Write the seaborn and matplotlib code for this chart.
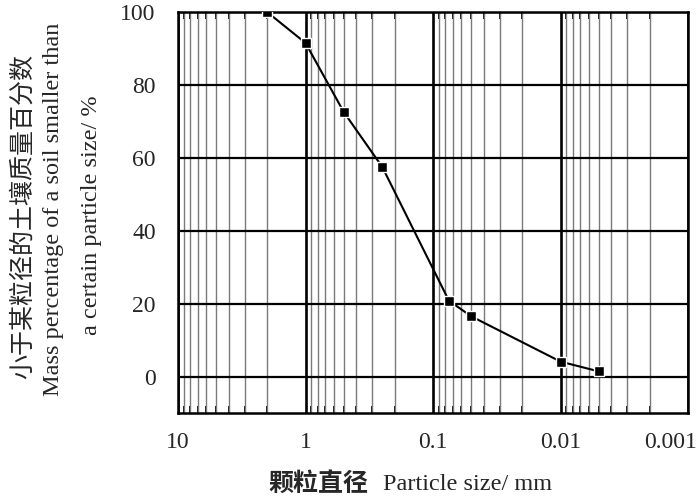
import matplotlib
matplotlib.use('Agg')
import matplotlib.pyplot as plt
import matplotlib.ticker as mticker
import matplotlib.transforms as mtransforms
import pandas as pd
import seaborn as sns

# grain size distribution
particle_size = [2, 1, 0.5, 0.25, 0.075, 0.05, 0.01, 0.005]
passing = [100, 91.5, 72.5, 57.5, 20.8, 16.5, 4.1, 1.4]
x_ticks = [10, 1, 0.1, 0.01, 0.001]
x_tick_labels = ['10', '1', '0.1', '0.01', '0.001']
y_ticks = [0, 20, 40, 60, 80, 100]
minor_ticks = [m * 10.0 ** e for e in range(-3, 1) for m in range(2, 10)]

sns.set_theme(style='white')
plt.rcParams['font.family'] = ['Liberation Serif', 'Noto Sans CJK SC']
plt.rcParams['font.size'] = 17

df = pd.DataFrame({'size': particle_size, 'pct': passing})

fig = plt.figure(figsize=(7, 4.99), dpi=100)
ax = fig.add_axes([178 / 700, 86 / 499, 510 / 700, 401 / 499])

ax.set_xscale('log')
ax.set_xlim(10, 0.001)
ax.set_ylim(-10, 100)

# grid: minor vertical grey, major black
for v in minor_ticks:
    ax.axvline(v, color='#7a7a7a', lw=1.0, zorder=1)
for v in x_ticks:
    ax.axvline(v, color='black', lw=1.9, zorder=1)
for h in y_ticks:
    ax.axhline(h, color='black', lw=1.6, zorder=1)

sns.lineplot(data=df, x='size', y='pct', ax=ax, color='black', lw=1.5,
             marker='s', markersize=7, markerfacecolor='black',
             markeredgecolor='white', markeredgewidth=1.0, zorder=3)

ax.xaxis.set_major_locator(mticker.FixedLocator(x_ticks))
ax.xaxis.set_major_formatter(mticker.FixedFormatter(x_tick_labels))
ax.xaxis.set_minor_locator(mticker.FixedLocator(minor_ticks))
ax.xaxis.set_minor_formatter(mticker.NullFormatter())
ax.set_yticks(y_ticks)

ax.tick_params(axis='x', which='major', length=0, pad=14, labelsize=17)
ax.tick_params(axis='x', which='minor', direction='in', length=5, width=1.3,
               color='black', top=True, bottom=True)
ax.tick_params(axis='y', length=0, pad=16, labelsize=17)

# the last label sits inside the figure edge, as in the reference
last = ax.get_xticklabels()[-1]
last.set_transform(last.get_transform() +
                   mtransforms.ScaledTranslation(-0.17, 0, fig.dpi_scale_trans))

for s in ax.spines.values():
    s.set_color('black')
    s.set_linewidth(1.8)

ax.set_xlabel('')
ax.set_ylabel('')

fig.text(268 / 700, 0.03, '颗粒直径', fontsize=18, fontweight='bold', ha='left', va='center')
fig.text(383 / 700, 0.03, 'Particle size/ mm', fontsize=17.5, ha='left', va='center')

fig.text(23 / 700, 0.567, '小于某粒径的土壤质量百分数', rotation=90, fontsize=18,
         ha='center', va='center')
fig.text(54 / 700, 0.581, 'Mass percentage of a soil smaller than', rotation=90,
         fontsize=17.5, ha='center', va='center')
fig.text(92 / 700, 0.569, 'a certain particle size/ %', rotation=90,
         fontsize=17.5, ha='center', va='center')

fig.savefig('out.png', dpi=100)
